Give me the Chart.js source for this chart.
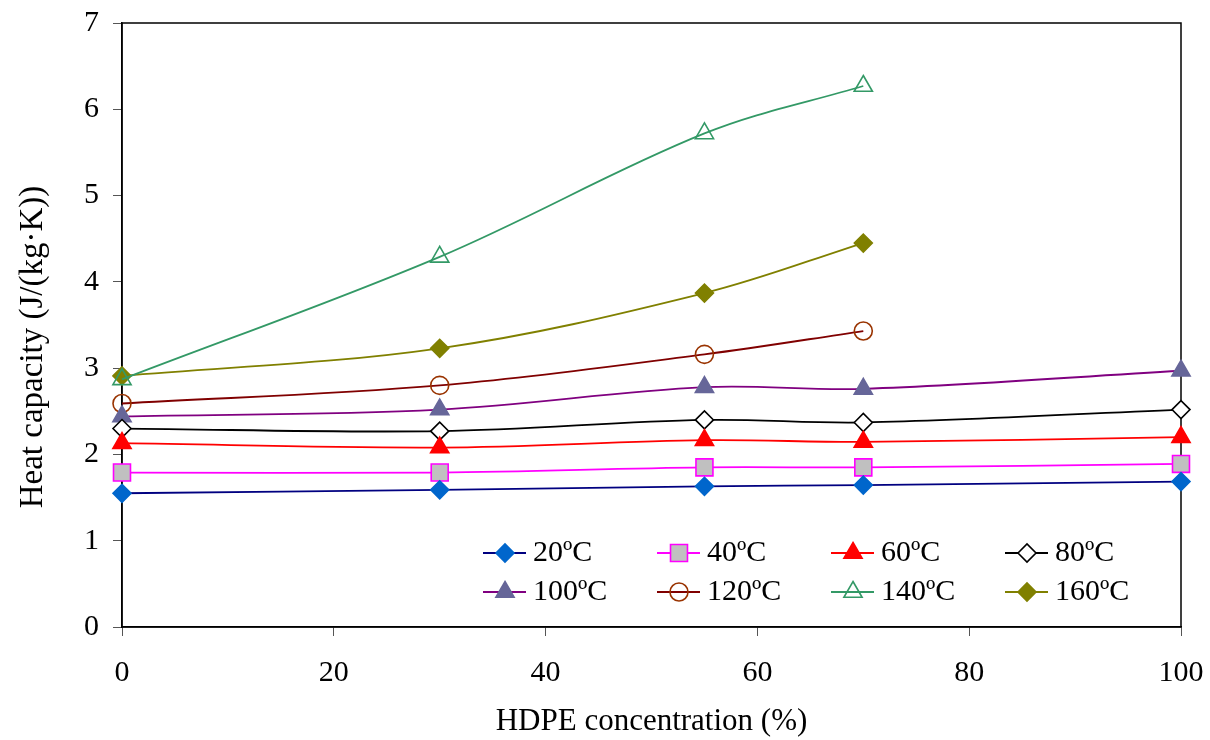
<!DOCTYPE html>
<html>
<head>
<meta charset="utf-8">
<script src="https://cdn.jsdelivr.net/npm/chart.js@4/dist/chart.umd.min.js"></script>
<style>
  html, body { margin: 0; padding: 0; background: #fff; }
  #wrap { width: 1210px; height: 740px; }
</style>
</head>
<body>
<div id="wrap"><canvas id="myChart" width="1210" height="740"></canvas></div>
<script>
// HDPE concentration (%) and heat capacity per temperature
const hdpe = [0, 30, 55, 70, 100];
const t20 = [1.55, 1.59, 1.63, 1.645, 1.685];
const t40 = [1.79, 1.79, 1.85, 1.85, 1.89];
const t60 = [2.13, 2.08, 2.165, 2.145, 2.20];
const t80 = [2.30, 2.27, 2.40, 2.37, 2.52];
const t100 = [2.44, 2.52, 2.78, 2.76, 2.97];
const t120 = [2.59, 2.80, 3.16, 3.43, null];
const t140 = [2.87, 4.29, 5.72, 6.27, null];
const t160 = [2.91, 3.23, 3.87, 4.45, null];

const seriesLabels = ['20ºC', '40ºC', '60ºC', '80ºC', '100ºC', '120ºC', '140ºC', '160ºC'];
const xTicks = [0, 20, 40, 60, 80, 100];
const yTicks = [0, 1, 2, 3, 4, 5, 6, 7];
const yTitle = 'Heat capacity (J/(kg·K))';

const FONT = "'Liberation Serif', 'Times New Roman', serif";

function series(label, values, line, marker) {
    return Object.assign({
        label: label,
        data: hdpe.map((x, i) => ({ x: x, y: values[i] })),
        borderColor: line,
        borderWidth: 1.8,
        tension: 0.35,
        pointBorderWidth: 1.6,
        pointHoverRadius: 9,
        spanGaps: false,
        clip: false
    }, marker);
}

const datasets = [
    series(seriesLabels[0], t20, '#000080', { pointStyle: 'rectRot', pointRadius: 9, pointBackgroundColor: '#0066CC', pointBorderColor: '#0066CC' }),
    series(seriesLabels[1], t40, '#FF00FF', { pointStyle: 'rect', pointRadius: 12, pointBackgroundColor: '#C0C0C0', pointBorderColor: '#FF00FF' }),
    series(seriesLabels[2], t60, '#FF0000', { pointStyle: 'triangle', pointRadius: 10.5, pointBackgroundColor: '#FF0000', pointBorderColor: '#FF0000' }),
    series(seriesLabels[3], t80, '#000000', { pointStyle: 'rectRot', pointRadius: 9, pointBackgroundColor: '#FFFFFF', pointBorderColor: '#000000' }),
    series(seriesLabels[4], t100, '#800080', { pointStyle: 'triangle', pointRadius: 10.5, pointBackgroundColor: '#666699', pointBorderColor: '#666699' }),
    series(seriesLabels[5], t120, '#800000', { pointStyle: 'circle', pointRadius: 9, pointBackgroundColor: 'rgba(0,0,0,0)', pointBorderColor: '#993300' }),
    series(seriesLabels[6], t140, '#339966', { pointStyle: 'triangle', pointRadius: 10.5, pointBackgroundColor: 'rgba(0,0,0,0)', pointBorderColor: '#339966' }),
    series(seriesLabels[7], t160, '#808000', { pointStyle: 'rectRot', pointRadius: 9, pointBackgroundColor: '#808000', pointBorderColor: '#808000' })
];

// box round the plot area, plus the y title (sits a bit below centre in the original)
const frame = {
    id: 'frame',
    beforeDatasetsDraw(chart) {
        const { ctx, chartArea: a } = chart;
        ctx.save();
        ctx.strokeStyle = '#000';
        ctx.lineWidth = 1.5;
        ctx.strokeRect(a.left, a.top, a.right - a.left, a.bottom - a.top);

        ctx.translate(33, 347);
        ctx.rotate(-Math.PI / 2);
        ctx.fillStyle = '#000';
        ctx.font = '33px ' + FONT;
        ctx.textAlign = 'center';
        ctx.textBaseline = 'middle';
        ctx.fillText(yTitle, 0, 0);
        ctx.restore();
    }
};

// legend drawn inside the plot, 4 columns x 2 rows
const innerLegend = {
    id: 'innerLegend',
    afterDraw(chart) {
        const ctx = chart.ctx;
        const colX = [483, 657, 831, 1005];
        const rowY = [553, 592];
        ctx.save();
        chart.data.datasets.forEach((ds, i) => {
            const x = colX[i % 4];
            const y = rowY[Math.floor(i / 4)];
            ctx.strokeStyle = ds.borderColor;
            ctx.lineWidth = ds.borderWidth;
            ctx.beginPath();
            ctx.moveTo(x, y);
            ctx.lineTo(x + 43, y);
            ctx.stroke();
            ctx.fillStyle = ds.pointBackgroundColor;
            ctx.strokeStyle = ds.pointBorderColor;
            ctx.lineWidth = ds.pointBorderWidth;
            Chart.helpers.drawPoint(ctx, {
                pointStyle: ds.pointStyle,
                radius: ds.pointRadius,
                rotation: 0,
                borderWidth: ds.pointBorderWidth
            }, x + 22, y);
            ctx.fillStyle = '#000';
            ctx.font = '30px ' + FONT;
            ctx.textAlign = 'left';
            ctx.textBaseline = 'middle';
            ctx.fillText(ds.label, x + 50, y);
        });
        ctx.restore();
    }
};

const myChart = document.getElementById('myChart');

new Chart(myChart, {
    type: 'line',
    data: { datasets: datasets },
    options: {
        responsive: false,
        animation: false,
        layout: { padding: { left: 0, top: 23, right: 29, bottom: 0 } },
        plugins: {
            legend: { display: false },
            tooltip: { enabled: false }
        },
        scales: {
            x: {
                type: 'linear',
                min: 0,
                max: 100,
                afterBuildTicks: s => { s.ticks = xTicks.map(v => ({ value: v })); },
                afterFit: s => { s.height = 113; s.paddingLeft = 0; s.paddingRight = 0; },
                grid: { drawOnChartArea: false, tickLength: 9, color: '#555', lineWidth: 1 },
                border: { color: '#000', width: 1.5 },
                ticks: { color: '#000', padding: 19, maxRotation: 0, font: { family: FONT, size: 30 } },
                title: {
                    display: true,
                    text: 'HDPE concentration (%)',
                    color: '#000',
                    padding: { top: 0, bottom: 0 },
                    font: { family: FONT, size: 31 }
                }
            },
            y: {
                min: 0,
                max: 7,
                afterBuildTicks: s => { s.ticks = yTicks.map(v => ({ value: v })); },
                afterFit: s => { s.width = 122; s.paddingTop = 0; s.paddingBottom = 0; },
                grid: { drawOnChartArea: false, tickLength: 9, color: '#555', lineWidth: 1 },
                border: { color: '#000', width: 1.5 },
                ticks: { color: '#000', padding: 14, font: { family: FONT, size: 30 } },
                title: { display: false }
            }
        }
    },
    plugins: [frame, innerLegend]
});
</script>
</body>
</html>
